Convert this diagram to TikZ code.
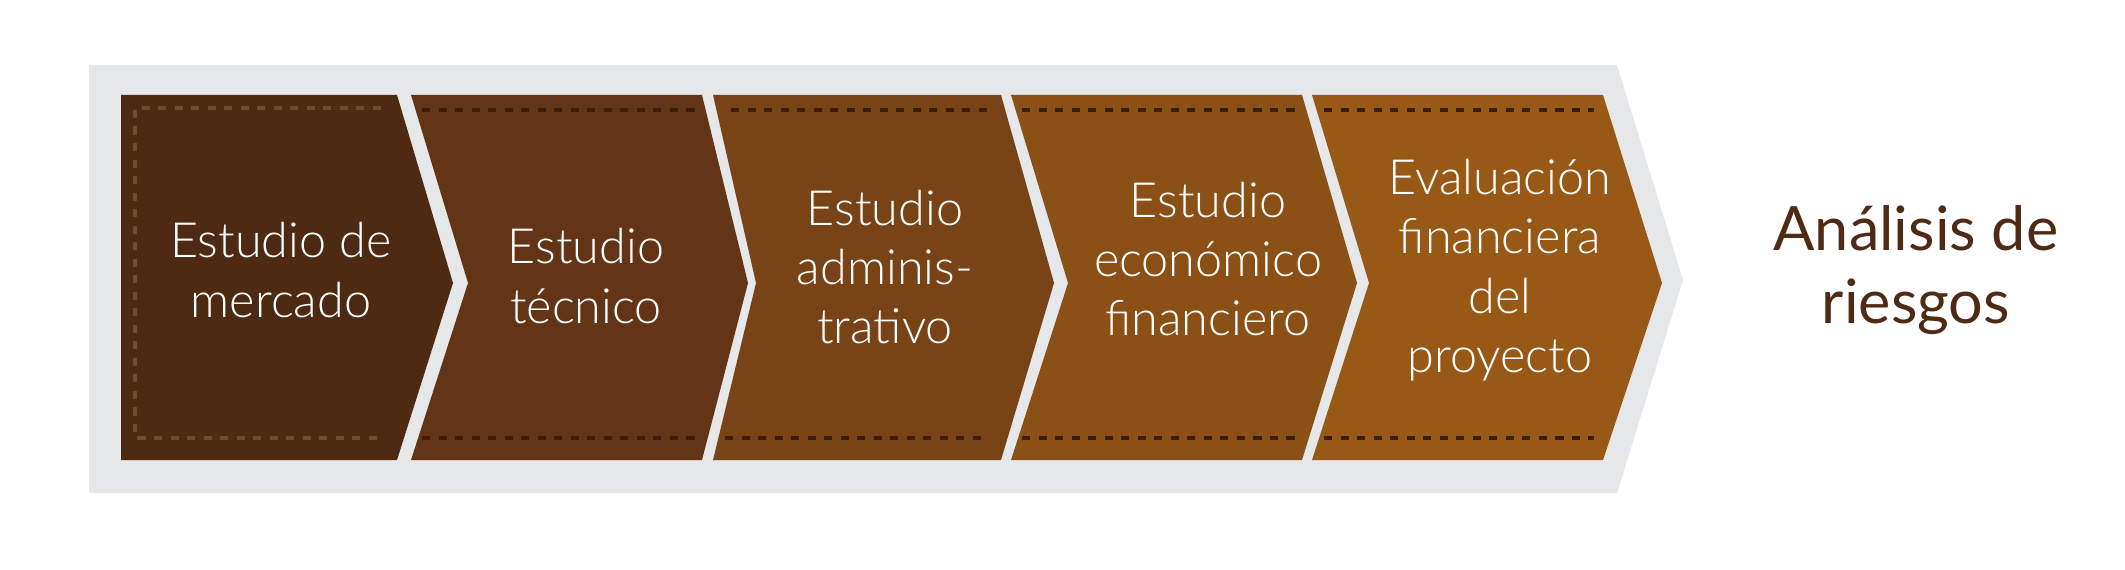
\documentclass[tikz,border=0pt]{standalone}
\usepackage{fontspec}
\setmainfont{Lato}
\newfontfamily\lightfont{Lato Light}
\usepackage{xcolor}
\usepackage{tikz}

\definecolor{bandgray}{HTML}{E6E7E9}
\definecolor{stageA}{HTML}{4F2A12}
\definecolor{stageB}{HTML}{633415}
\definecolor{stageC}{HTML}{774317}
\definecolor{stageD}{HTML}{8A5016}
\definecolor{stageE}{HTML}{985917}
\definecolor{stitch}{HTML}{3A1D0C}
\definecolor{stitchA}{HTML}{6B4F2C}
\definecolor{titlebrown}{HTML}{4F2A14}

\begin{document}
\begin{tikzpicture}[x=0.01cm, y=-0.01cm,
    stagetext/.style={text=white, align=center, inner sep=0pt,
        font={\lightfont\fontsize{13.8}{16.9}\selectfont}},
    seam/.style={draw=stitch, line width=1.14pt, dash pattern=on 2.3pt off 2.4pt},
    seamA/.style={draw=stitchA, line width=1.14pt, dash pattern=on 2.3pt off 2.4pt}]
        \useasboundingbox (0,0) rectangle (2125,570);

        % Background band
        \fill[bandgray] (89,65) -- (1617,65) -- (1683,280) -- (1617,493) -- (89,493) -- cycle;

        % Estudio de mercado
        \fill[stageA] (121,95) -- (397,95) -- (453,283) -- (397,460) -- (121,460) -- cycle;
        \draw[seamA] (381,108) -- (135,108) -- (135,438) -- (381,438);
        \node[stagetext] (mercado) at (281,270) {Estudio de\\mercado};

        % Estudio tecnico
        \fill[stageB] (411,95) -- (702,95) -- (748,283) -- (702,460) -- (411,460) -- (468,283) -- cycle;
        \draw[seam] (422,110) -- (695,110);
        \draw[seam] (422,438) -- (695,438);
        \node[stagetext] (tecnico) at (586,276) {Estudio\\técnico};

        % Estudio administrativo
        \fill[stageC] (713,95) -- (1001,95) -- (1054,283) -- (1001,460) -- (713,460) -- (756,283) -- cycle;
        \draw[seam] (731,110) -- (989,110);
        \draw[seam] (725,438) -- (983,438);
        \node[stagetext] (admin) at (885,267) {Estudio\\adminis-\\trativo};

        % Estudio economico financiero
        \fill[stageD] (1011,95) -- (1302,95) -- (1357,283) -- (1302,460) -- (1011,460) -- (1068,283) -- cycle;
        \draw[seam] (1022,110) -- (1295,110);
        \draw[seam] (1022,438) -- (1295,438);
        \node[stagetext] (economico) at (1208,259) {Estudio\\económico\\financiero};

        % Evaluacion financiera del proyecto
        \fill[stageE] (1312,95) -- (1603,95) -- (1662,283) -- (1603,460) -- (1312,460) -- (1369,283) -- cycle;
        \draw[seam] (1324,110) -- (1594,110);
        \draw[seam] (1324,438) -- (1594,438);
        \node[stagetext] (evaluacion) at (1500,270) {Evaluación\\financiera\\del\\proyecto};

        % Result
        \node[text=titlebrown, align=center, inner sep=0pt,
            font={\fontsize{17.4}{21}\selectfont}] (riesgos) at (1916,270) {Análisis de\\riesgos};
    \end{tikzpicture}
\end{document}
